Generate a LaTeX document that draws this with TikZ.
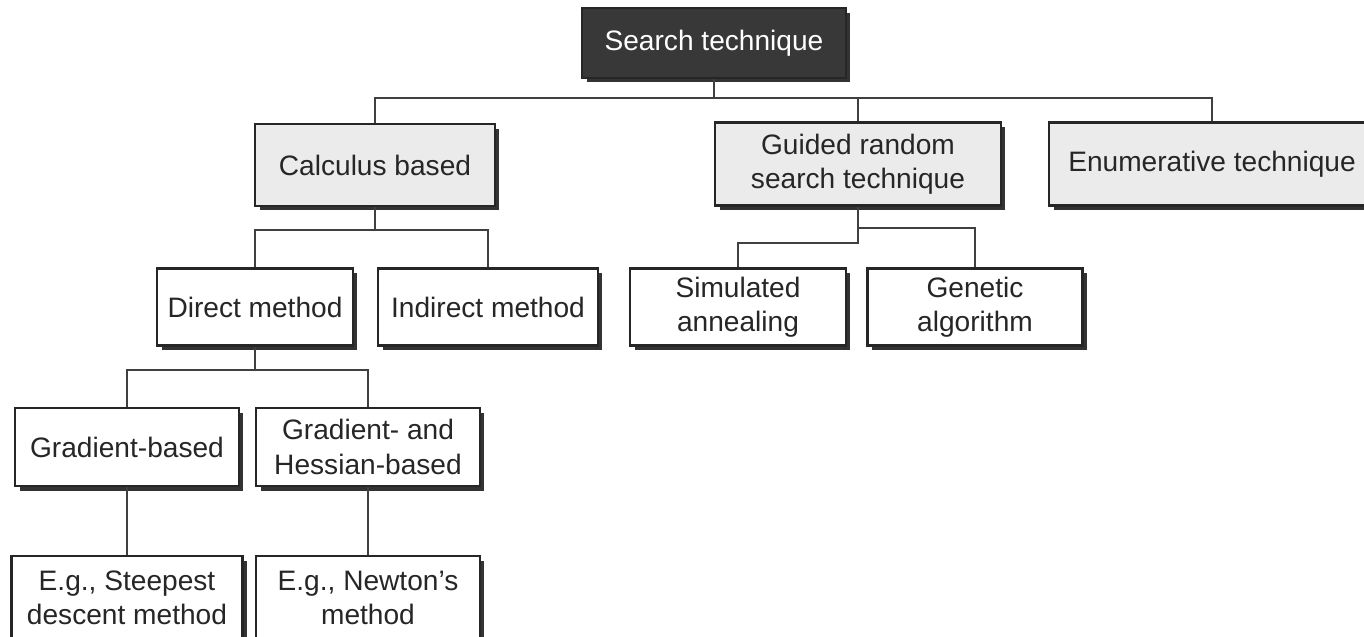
\documentclass[tikz,border=0pt]{standalone}
\usepackage{fontspec}
\setmainfont{Liberation Sans}
\usetikzlibrary{shadows}
\tikzset{
  techbox/.style={draw=black!85, line width=1.3pt, fill=white, text=black!85, align=center,
    font=\fontsize{16}{19.5}\selectfont, inner sep=0pt,
    drop shadow={opacity=1, fill=black!80, shadow xshift=0.09cm, shadow yshift=-0.09cm}},
  greybox/.style={techbox, fill=black!8},
  rootbox/.style={techbox, fill=black!78, text=white!92},
  link/.style={line width=1.1pt, draw=black!75},
}
\begin{document}
\begin{tikzpicture}[x=0.02cm, y=-0.02cm]
    \useasboundingbox (0,0) rectangle (1364,636);
    \node[rootbox, minimum width=5.28cm, minimum height=1.4cm] (Search) at (714,43) {Search technique};
    \node[greybox, minimum width=4.8cm, minimum height=1.64cm] (Calculus) at (375,165) {Calculus based};
    \node[greybox, minimum width=5.72cm, minimum height=1.66cm] (Guided) at (858,164) {Guided random\\search technique};
    \node[greybox, minimum width=6.52cm, minimum height=1.66cm] (Enumerative) at (1212,164) {Enumerative technique};

    \node[techbox, minimum width=3.92cm, minimum height=1.54cm] (Direct) at (255,307) {Direct method};
    \node[techbox, minimum width=4.4cm, minimum height=1.54cm] (Indirect) at (488,307) {Indirect method};
    \node[techbox, minimum width=4.32cm, minimum height=1.54cm] (Annealing) at (738,307) {Simulated\\annealing};
    \node[techbox, minimum width=4.3cm, minimum height=1.54cm] (Genetic) at (975,307) {Genetic\\algorithm};

    \node[techbox, minimum width=4.48cm, minimum height=1.56cm] (Gradient) at (127,447) {Gradient-based};
    \node[techbox, minimum width=4.48cm, minimum height=1.56cm] (Hessian) at (368,447) {Gradient- and\\Hessian-based};
    \node[techbox, minimum width=4.62cm, minimum height=1.68cm] (Steepest) at (127,598) {E.g., Steepest\\descent method};
    \node[techbox, minimum width=4.48cm, minimum height=1.68cm] (Newton) at (368,598) {E.g., Newton's\\method};

    \coordinate (RootBus)   at (714,98);
    \coordinate (CalcBus)   at (375,230);
    \coordinate (GuidedBus) at (858,228);
    \coordinate (GuidedLow) at (858,243);
    \coordinate (DirectBus) at (255,370);
    \draw [link] (Search.south) -- (RootBus) -| (Calculus.north);% Draw top level
    \draw [link] (RootBus) -| (Guided.north);
    \draw [link] (RootBus) -| (Enumerative.north);
    \draw [link] (Calculus.south) -- (CalcBus) -| (Direct.north);% Draw calculus branch
    \draw [link] (CalcBus) -| (Indirect.north);
    \draw [link] (Guided.south) -- (GuidedLow) -| (Annealing.north);% Draw guided branch
    \draw [link] (GuidedBus) -| (Genetic.north);
    \draw [link] (Direct.south) -- (DirectBus) -| (Gradient.north);% Draw direct branch
    \draw [link] (DirectBus) -| (Hessian.north);
    \draw [link] (Gradient.south) -- (Steepest.north);
    \draw [link] (Hessian.south) -- (Newton.north);
\end{tikzpicture}
\end{document}
